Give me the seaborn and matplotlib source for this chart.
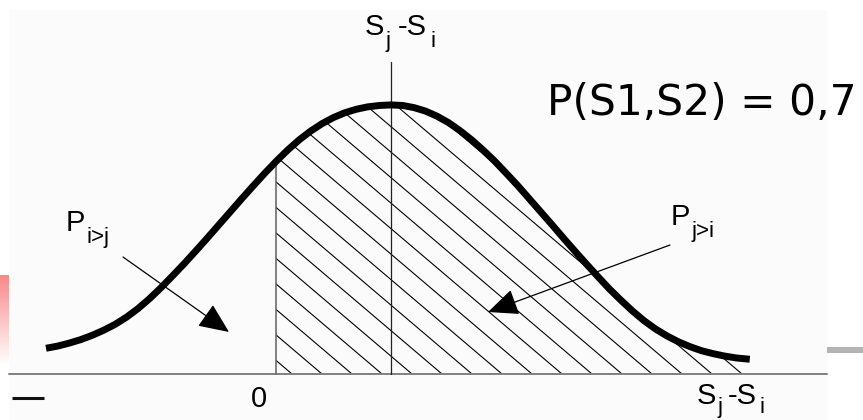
import numpy as np
import matplotlib
matplotlib.use('Agg')
import matplotlib.pyplot as plt
import seaborn as sns
from matplotlib.colors import LinearSegmentedColormap
from matplotlib.patches import Rectangle, Polygon
from matplotlib.collections import LineCollection

# curve (x: score difference, 0 = no difference, 1 = S_j - S_i)
diff_x = [-2.0, -1.9, -1.8, -1.7, -1.6, -1.5, -1.4, -1.3, -1.2, -1.1,
          -1.0, -0.9, -0.8, -0.7, -0.6, -0.5, -0.4, -0.3, -0.2, -0.1,
          0.0, 0.1, 0.2, 0.3, 0.4, 0.5, 0.6, 0.7, 0.8, 0.9,
          1.0, 1.1, 1.2, 1.3, 1.4, 1.5, 1.6, 1.7, 1.8, 1.9,
          2.0, 2.1, 2.2, 2.3, 2.4, 2.5, 2.6, 2.7, 2.8, 2.9,
          3.0, 3.1, 3.2, 3.3, 3.4, 3.5, 3.6, 3.7, 3.8, 3.9,
          4.0, 4.12]
density = [0.096, 0.104, 0.115, 0.128, 0.144, 0.163, 0.185, 0.212, 0.244, 0.281,
           0.322, 0.366, 0.411, 0.458, 0.506, 0.555, 0.604, 0.653, 0.701, 0.748,
           0.793, 0.835, 0.873, 0.906, 0.934, 0.957, 0.975, 0.988, 0.997, 1.002,
           1.004, 1.002, 0.994, 0.981, 0.962, 0.938, 0.908, 0.874, 0.836, 0.795,
           0.750, 0.704, 0.655, 0.606, 0.557, 0.507, 0.458, 0.410, 0.363, 0.317,
           0.275, 0.235, 0.199, 0.168, 0.142, 0.120, 0.102, 0.087, 0.076, 0.067,
           0.060, 0.055]
mean_diff = 1.0
zero_x = 0.0
prob_text = "P(S1,S2) = 0,7"

sns.set_theme(style='white')
plt.rcParams['font.family'] = ['Liberation Sans', 'DejaVu Sans']
plt.rcParams['text.color'] = 'black'


def px(x, y):
    # picture pixels -> data coords
    return (x - 276) / 115, (374 - y) / 268


fig = plt.figure(figsize=(8.63, 4.2), dpi=100)
ax = fig.add_axes([0, 0, 1, 1])
ax.axis('off')

# light slide background + small decorations
x0, y0 = px(9, 420)
ax.add_patch(Rectangle((x0, y0), (827 - 9) / 115, (420 - 10) / 268, color='#fbfbfb', lw=0, zorder=0))
pink = LinearSegmentedColormap.from_list('pink', ['#ffffff', '#f98888'])
gx0, gy0 = px(0, 365)
gx1, gy1 = px(9, 275)
ax.imshow(np.linspace(1, 0, 64)[:, None], cmap=pink, extent=[gx0, gx1, gy0, gy1], aspect='auto', zorder=1)
bx0, by0 = px(827, 353)
ax.add_patch(Rectangle((bx0, by0), 36 / 115, 6 / 268, color='#b4b4b4', lw=0, zorder=1))
dx0, dy0 = px(12, 398)
dx1, _ = px(44, 398)
ax.plot([dx0, dx1], [dy0, dy0], color='#111111', lw=2.2, solid_capstyle='butt')

# baseline
lx0, _ = px(9, 374)
lx1, _ = px(827, 374)
ax.plot([lx0, lx1], [0, 0], color='#808080', lw=1.4, zorder=3)

# hatched area right of zero
xs = np.array(diff_x)
ys = np.array(density)
y_zero = np.interp(zero_x, xs, ys)
keep = xs > zero_x
poly_pts = [(zero_x, 0), (zero_x, y_zero)] + list(zip(xs[keep], ys[keep])) + [(xs[-1], 0)]
clip = Polygon(poly_pts, closed=True, facecolor='none', edgecolor='none')
ax.add_patch(clip)
slope = 0.85 * 115 / 268
segs = []
for k in range(-3, 22):
    xb = 0.4 + k * 30 / 115
    segs.append([(xb, 0), (xb - 1.3 / slope, 1.3)])
hatch = LineCollection(segs, colors='black', linewidths=0.8, zorder=2)
ax.add_collection(hatch)
hatch.set_clip_path(clip)

ax.plot([zero_x, zero_x], [0, y_zero], color='#606060', lw=1.1, zorder=3)
ax.plot([mean_diff, mean_diff], [0, px(0, 62)[1]], color='#222222', lw=0.9, zorder=3)

sns.lineplot(x=diff_x, y=density, ax=ax, color='black', linewidth=5,
             solid_capstyle='butt', solid_joinstyle='round', zorder=4)

# arrows
arrow_kw = dict(arrowstyle='-|>,head_length=0.5,head_width=0.22', mutation_scale=38,
                color='black', lw=0.9, shrinkA=0, shrinkB=0)
ax.annotate('', xy=px(229, 332), xytext=px(123, 257), arrowprops=arrow_kw, zorder=5)
ax.annotate('', xy=px(488, 312), xytext=px(670, 245), arrowprops=arrow_kw, zorder=5)

# labels
big = 21
small = 16
ax.text(*px(66, 231), 'P', fontsize=big, va='baseline')
ax.text(*px(86, 243), 'i>j', fontsize=small, va='baseline')
ax.text(*px(671, 225), 'P', fontsize=big, va='baseline')
ax.text(*px(691, 237), 'j>i', fontsize=small, va='baseline')

ax.text(*px(365, 35), 'S', fontsize=big, va='baseline')
ax.text(*px(385, 47), 'j', fontsize=small, va='baseline')
ax.text(*px(398, 35), '-S', fontsize=big, va='baseline')
ax.text(*px(430, 47), 'i', fontsize=small, va='baseline')

ax.text(*px(251, 407), '0', fontsize=big, va='baseline')
ax.text(*px(697, 404), 'S', fontsize=big, va='baseline')
ax.text(*px(717, 413), 'j', fontsize=small, va='baseline')
ax.text(*px(728, 404), '-S', fontsize=big, va='baseline')
ax.text(*px(759, 413), 'i', fontsize=small, va='baseline')

ax.text(*px(547, 115), prob_text, fontsize=30.5, va='baseline', family='DejaVu Sans')

ax.set_xlim(px(0, 0)[0], px(863, 0)[0])
ax.set_ylim(px(0, 420)[1], px(0, 0)[1])

fig.savefig('out.png', dpi=100)
